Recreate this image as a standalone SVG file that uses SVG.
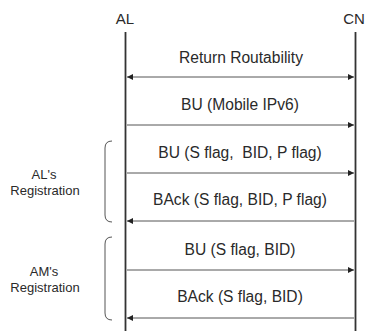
<svg xmlns="http://www.w3.org/2000/svg" width="368" height="331" viewBox="0 0 368 331">
<style>
.t{font-family:"Liberation Sans",Arial,sans-serif;fill:#2a2a2a;text-anchor:middle;white-space:pre}
.m{font-size:15.6px}
.h{font-size:15px}
.s{font-size:13px}
.life{stroke:#333;stroke-width:1.8;fill:none}
.msg{stroke:#555;stroke-width:1;fill:none}
.brace{stroke:#555;stroke-width:1;fill:none}
</style>
<defs>
<marker id="ah" viewBox="0 0 6 6" refX="6" refY="3" markerWidth="6" markerHeight="6" markerUnits="userSpaceOnUse" orient="auto-start-reverse">
<path d="M0,0 L6,3 L0,6 Z" fill="#222"/>
</marker>
</defs>
<rect width="368" height="331" fill="#fff"/>
<g id="AL">
<text class="t h" x="125" y="24">AL</text>
<line class="life" x1="125.5" y1="32" x2="125.5" y2="331"/>
</g>
<g id="CN">
<text class="t h" x="354" y="24">CN</text>
<line class="life" x1="355.5" y1="32" x2="355.5" y2="331"/>
</g>
<g id="ALReg">
<path class="brace" d="M112,141 Q105,141 105,148 L105,215 Q105,222 112,222"/>
<text class="t s" x="44" y="179">AL's</text>
<text class="t s" x="45" y="195">Registration</text>
</g>
<g id="AMReg">
<path class="brace" d="M112,237 Q105,237 105,244 L105,313 Q105,320 112,320"/>
<text class="t s" x="44" y="276">AM's</text>
<text class="t s" x="45" y="292">Registration</text>
</g>
<g id="connectors">
<line class="msg" x1="127" y1="77" x2="354" y2="77" marker-start="url(#ah)" marker-end="url(#ah)"/>
<text class="t m" x="241" y="63">Return Routability</text>
<line class="msg" x1="127" y1="125" x2="354" y2="125" marker-end="url(#ah)"/>
<text class="t m" x="240" y="110">BU (Mobile IPv6)</text>
<line class="msg" x1="127" y1="173" x2="354" y2="173" marker-end="url(#ah)"/>
<text class="t m" x="240" y="158">BU (S flag,  BID, P flag)</text>
<line class="msg" x1="127" y1="221" x2="354" y2="221" marker-start="url(#ah)"/>
<text class="t m" x="240" y="205">BAck (S flag, BID, P flag)</text>
<line class="msg" x1="127" y1="270" x2="354" y2="270" marker-end="url(#ah)"/>
<text class="t m" x="240" y="255">BU (S flag, BID)</text>
<line class="msg" x1="127" y1="318" x2="354" y2="318" marker-start="url(#ah)"/>
<text class="t m" x="240" y="302">BAck (S flag, BID)</text>
</g>
</svg>
